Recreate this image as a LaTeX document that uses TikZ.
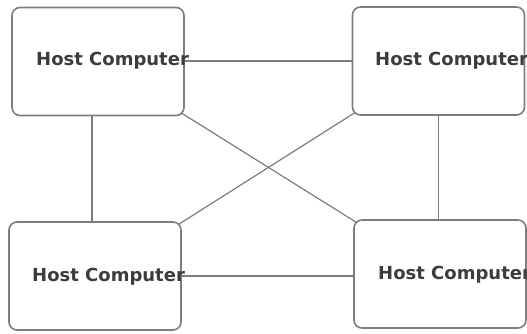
\documentclass[tikz,border=0pt]{standalone}
\usepackage{fontspec}
\setmainfont{DejaVu Sans}
\usetikzlibrary{calc}
\definecolor{boxgray}{RGB}{125,125,125}
\definecolor{textgray}{RGB}{60,60,60}
\tikzset{
  hostbox/.style={draw=boxgray, line width=1.6pt, rounded corners=8pt,
    minimum width=172pt, minimum height=108pt, inner sep=0pt, outer sep=0pt},
  hosttext/.style={anchor=base west, inner sep=0pt, text=textgray,
    font=\fontsize{18}{20}\selectfont\bfseries},
  link/.style={draw=boxgray, line width=1.2pt}
}
\begin{document}
\begin{tikzpicture}[x=1pt, y=-1pt]
\useasboundingbox (0,0) rectangle (527,333);
% the four hosts
\node[hostbox] (tl) at (98,61.5) {};
\node[hostbox] (tr) at (438.5,61) {};
\node[hostbox] (bl) at (95,276) {};
\node[hostbox] (br) at (440,274) {};
% links
\draw[link] (tr.west -| tl.east) -- (tr.west);
\draw[link] (bl.east) -- (bl.east -| br.west);
\draw[link] ([xshift=-6pt]tl.south) -- ([xshift=-6pt]tl.south |- bl.north);
\draw[link] (tr.south) -- (tr.south |- br.north);
\draw[link] ($(tl.south east)+(-2.3,-2.3)$) -- ($(br.north west)+(2.3,2.3)$);
\draw[link] ($(tr.south west)+(2.3,-2.3)$) -- ($(bl.north east)+(-2.3,2.3)$);
% labels
\node[hosttext] (tllabel) at (36,65) {Host Computer};
\node[hosttext] (trlabel) at (375,65) {Host Computer};
\node[hosttext] (bllabel) at (32,281) {Host Computer};
\node[hosttext] (brlabel) at (378,279) {Host Computer};
\end{tikzpicture}
\end{document}
